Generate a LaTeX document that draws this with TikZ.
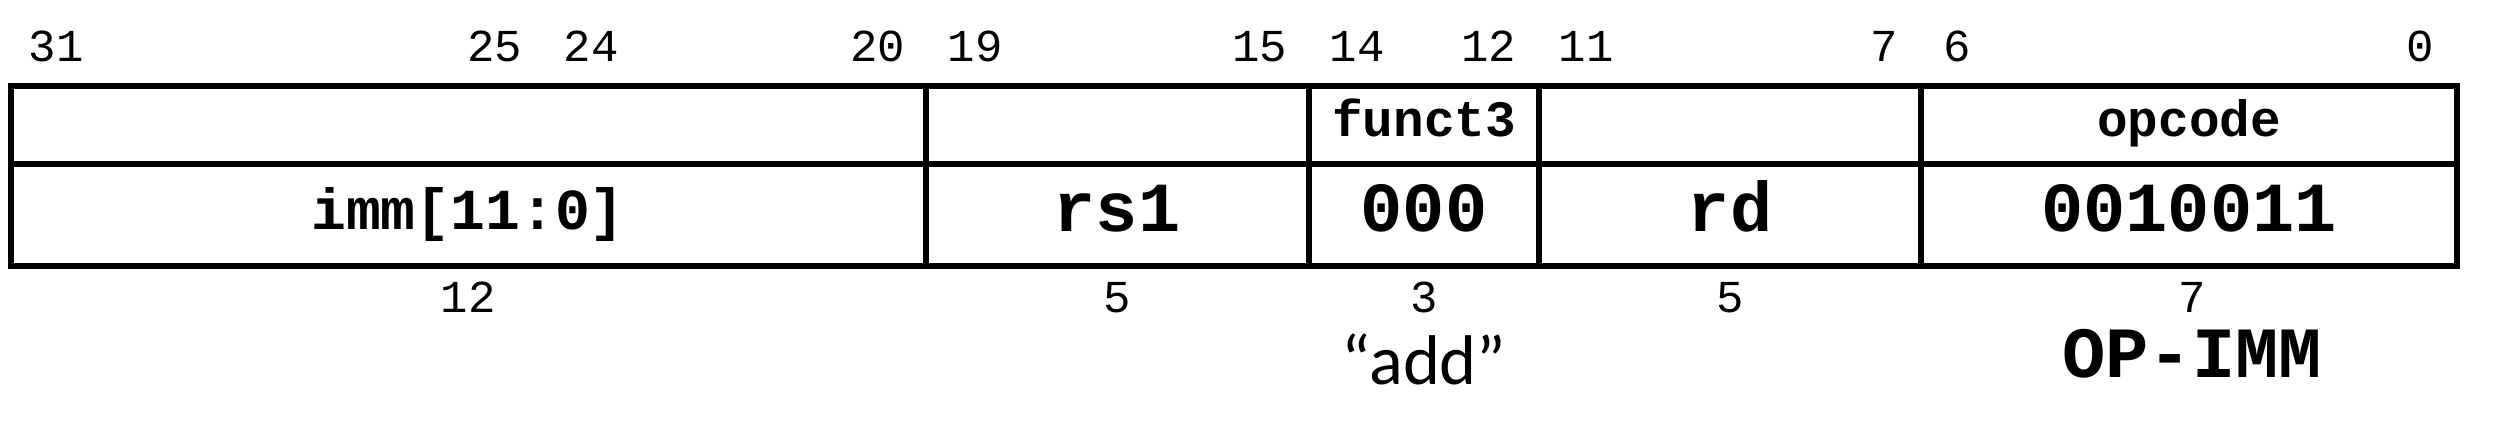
\documentclass[tikz,border=0pt]{standalone}
\usepackage{fontspec}
\setmainfont{Carlito}
\setmonofont{Liberation Mono}
\usepackage{tikz}
\usetikzlibrary{positioning}
\tikzset{
  gridline/.style={
    draw=black,
    line width=1.7pt,
  },
  bitnum/.style={
    font=\fontsize{13}{15}\selectfont\ttfamily,
    inner sep=0pt,
  },
  fieldname/.style={
    font=\fontsize{14.5}{16}\selectfont\ttfamily\bfseries,
    inner sep=0pt,
    anchor=base,
  },
  fieldval/.style={
    font=\fontsize{20}{22}\selectfont\ttfamily\bfseries,
    inner sep=0pt,
    anchor=base,
  },
  immval/.style={
    font=\fontsize{16.5}{18}\selectfont\ttfamily\bfseries,
    inner sep=0pt,
    anchor=base,
  },
  note/.style={
    font=\fontsize{20}{22}\selectfont,
    inner sep=0pt,
    anchor=base,
  },
  opnote/.style={
    font=\fontsize{20.5}{22}\selectfont\ttfamily\bfseries,
    inner sep=0pt,
    anchor=base,
  },
}

\begin{document}
\begin{tikzpicture}[x=0.01cm, y=0.01cm]
  \useasboundingbox (0,0) rectangle (2500,434);

  % Instruction word frame
  \draw[gridline] (11,168) rectangle (2457,348);
  \draw[gridline] (11,270) -- (2457,270);
  \draw[gridline] (926,168)  -- (926,348);
  \draw[gridline] (1309,168) -- (1309,348);
  \draw[gridline] (1539,168) -- (1539,348);
  \draw[gridline] (1921,168) -- (1921,348);

  % Bit positions above the frame
  \node[bitnum, anchor=base west] (b31) at (28,372)   {31};
  \node[bitnum, anchor=base east] (b25) at (523,372)  {25};
  \node[bitnum, anchor=base west] (b24) at (563,372)  {24};
  \node[bitnum, anchor=base east] (b20) at (906,372)  {20};
  \node[bitnum, anchor=base west] (b19) at (947,372)  {19};
  \node[bitnum, anchor=base east] (b15) at (1288,372) {15};
  \node[bitnum, anchor=base west] (b14) at (1329,372) {14};
  \node[bitnum, anchor=base east] (b12) at (1517,372) {12};
  \node[bitnum, anchor=base west] (b11) at (1558,372) {11};
  \node[bitnum, anchor=base east] (b7)  at (1899,372) {7};
  \node[bitnum, anchor=base west] (b6)  at (1943,372) {6};
  \node[bitnum, anchor=base east] (b0)  at (2435,372) {0};

  % Row 1 --- field names
  \node[fieldname] (funct) at (1424,297) {funct3};
  \node[fieldname] (opc)   at (2189,297) {opcode};

  % Row 2 --- field contents
  \node[immval]   (imm)    at (468,204)  {imm[11:0]};
  \node[fieldval] (rsone)  at (1117,202) {rs1};
  \node[fieldval] (fval)   at (1424,202) {000};
  \node[fieldval] (rdest)  at (1730,202) {rd};
  \node[fieldval] (opval)  at (2189,202) {0010011};

  % Field widths below the frame
  \node[bitnum, anchor=base] (w12) at (468,121)  {12};
  \node[bitnum, anchor=base] (w5a) at (1117,121) {5};
  \node[bitnum, anchor=base] (w3)  at (1424,121) {3};
  \node[bitnum, anchor=base] (w5b) at (1730,121) {5};
  \node[bitnum, anchor=base] (w7)  at (2192,121) {7};

  % Meaning of the encoded values
  \node[note]   (addnote) at (1424,49) {“add”};
  \node[opnote] (opimm)   at (2192,56) {OP-IMM};
\end{tikzpicture}
\end{document}
